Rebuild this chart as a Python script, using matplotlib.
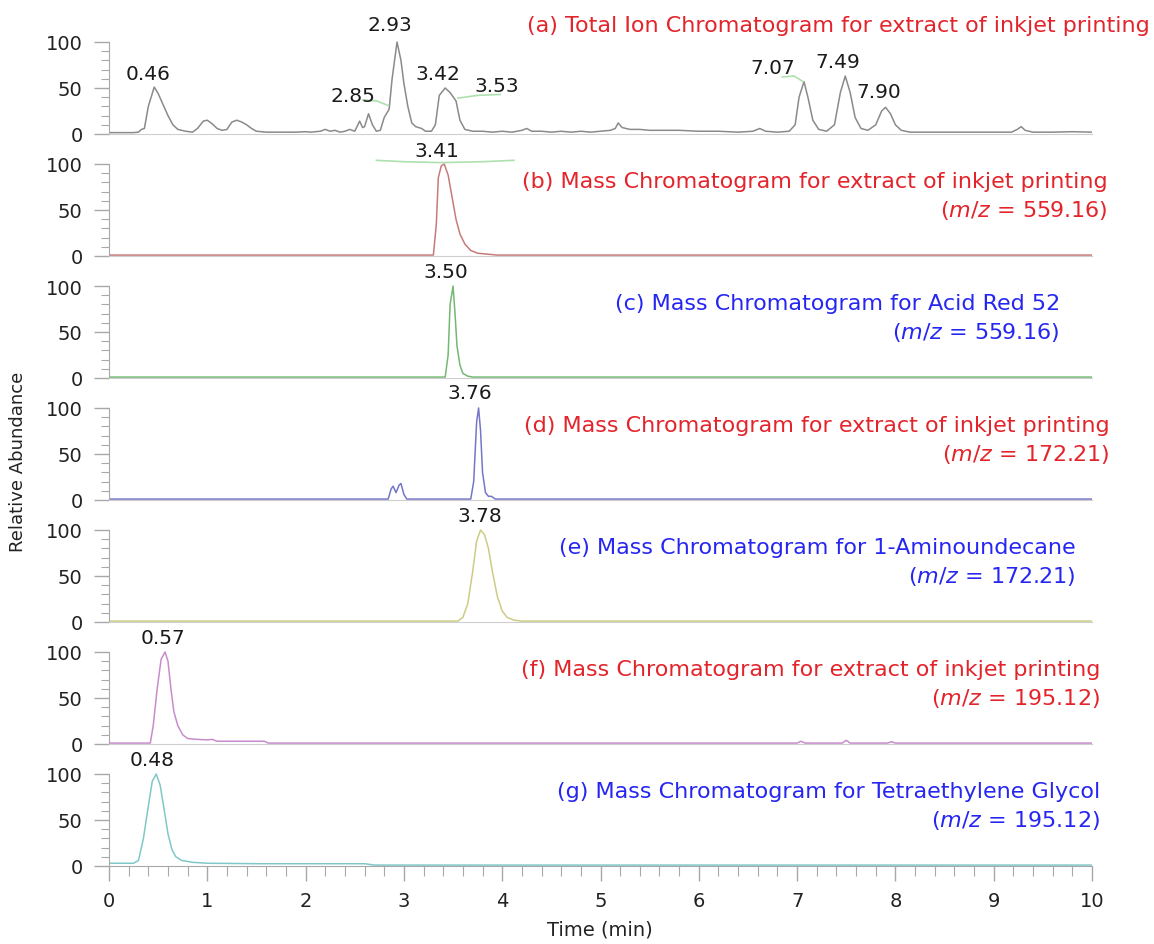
import matplotlib
matplotlib.use("Agg")
import matplotlib.pyplot as plt
from matplotlib.ticker import FixedLocator

plt.rcParams['font.family'] = ['DejaVu Sans']
plt.rcParams['mathtext.fontset'] = 'dejavusans'

W, H = 1154, 945

# ---- traces: (time in min, relative abundance) ----
tic_t = [0.00, 0.25, 0.30, 0.33, 0.36, 0.40, 0.46, 0.50, 0.55, 0.60, 0.65, 0.70, 0.78,
         0.85, 0.90, 0.96, 1.00, 1.05, 1.10, 1.15, 1.20, 1.25, 1.30, 1.35, 1.40, 1.45,
         1.50, 1.60, 1.90, 2.00, 2.05, 2.15, 2.20, 2.25, 2.30, 2.35, 2.40, 2.45, 2.50,
         2.55, 2.58, 2.60, 2.64, 2.68, 2.72, 2.76, 2.80, 2.85, 2.88, 2.93, 2.97, 3.00,
         3.04, 3.08, 3.12, 3.18, 3.22, 3.28, 3.32, 3.36, 3.42, 3.47, 3.53, 3.57, 3.62,
         3.70, 3.80, 3.90, 4.00, 4.10, 4.20, 4.25, 4.30, 4.40, 4.50, 4.60, 4.70, 4.80,
         4.90, 5.00, 5.10, 5.15, 5.18, 5.22, 5.30, 5.40, 5.50, 5.60, 5.80, 6.00, 6.20,
         6.40, 6.55, 6.62, 6.68, 6.80, 6.92, 6.98, 7.02, 7.07, 7.11, 7.16, 7.22, 7.30,
         7.38, 7.44, 7.49, 7.54, 7.59, 7.65, 7.72, 7.80, 7.86, 7.90, 7.95, 8.00, 8.06,
         8.15, 8.50, 9.00, 9.18, 9.24, 9.28, 9.32, 9.40, 9.60, 9.80, 10.0]
tic_i = [1.5, 1.5, 2, 5, 6, 30, 51, 44, 32, 20, 10, 5, 3,
         2, 6, 14, 15, 11, 6, 4, 5, 13, 15, 13, 10, 6,
         3, 2, 2, 2.5, 2, 3, 5, 3, 4, 2, 3, 5, 3,
         14, 7, 8, 22, 10, 3, 4, 18, 27, 60, 100, 80, 55,
         30, 12, 8, 6, 3, 3, 10, 42, 50, 45, 36, 15, 5,
         3, 3, 2, 3, 2, 4, 6, 3, 3, 2, 3, 2, 3,
         2, 3, 4, 6, 12, 7, 5, 5, 4, 4, 4, 3, 3,
         2, 3, 6, 3, 2, 3, 10, 40, 57, 40, 15, 5, 3,
         10, 45, 63, 45, 18, 6, 4, 10, 25, 29, 22, 10, 4,
         2, 2, 2, 2, 5, 8, 4, 2, 2, 2.5, 2]

b_t = [0, 3.30, 3.33, 3.35, 3.38, 3.41, 3.45, 3.49, 3.53, 3.57, 3.62, 3.68, 3.75, 3.85, 3.95, 10]
b_i = [1, 1, 35, 85, 98, 100, 88, 64, 40, 24, 13, 6, 3, 2, 1, 1]

c_t = [0, 3.42, 3.45, 3.47, 3.50, 3.52, 3.54, 3.57, 3.60, 3.65, 3.70, 10]
c_i = [1, 1, 25, 80, 100, 70, 35, 14, 5, 2, 1, 1]

d_t = [0, 2.84, 2.87, 2.89, 2.92, 2.95, 2.97, 3.00, 3.03, 3.68, 3.71, 3.74, 3.76, 3.78,
       3.80, 3.83, 3.86, 3.89, 3.93, 10]
d_i = [1, 1, 12, 15, 8, 16, 18, 6, 1, 1, 20, 85, 100, 75, 30, 8, 4, 4, 1, 1]

e_t = [0, 3.55, 3.60, 3.65, 3.70, 3.74, 3.78, 3.82, 3.86, 3.90, 3.95, 4.00, 4.05, 4.12, 4.20, 10]
e_i = [1, 1, 5, 20, 55, 88, 100, 95, 80, 55, 28, 12, 5, 2, 1, 1]

f_t = [0, 0.42, 0.45, 0.49, 0.53, 0.57, 0.60, 0.63, 0.66, 0.70, 0.75, 0.80, 0.90, 1.00,
       1.05, 1.10, 1.30, 1.58, 1.62, 7.00, 7.04, 7.08, 7.46, 7.50, 7.54, 7.92, 7.96, 8.00, 10]
f_i = [1, 1, 20, 60, 92, 100, 90, 60, 35, 20, 10, 6, 5, 4.5,
       5, 3, 3, 3, 1, 1, 3, 1, 1, 4, 1, 1, 2.5, 1, 1]

g_t = [0, 0.25, 0.30, 0.35, 0.40, 0.44, 0.48, 0.52, 0.56, 0.60, 0.64, 0.68, 0.74, 0.85,
       1.00, 1.50, 2.00, 2.60, 2.70, 10]
g_i = [3, 3, 6, 30, 65, 92, 100, 88, 62, 35, 18, 10, 6, 4,
       3, 2.5, 2.5, 2.5, 1, 1]

traces = [(tic_t, tic_i), (b_t, b_i), (c_t, c_i), (d_t, d_i), (e_t, e_i), (f_t, f_i), (g_t, g_i)]
trace_colors = ['#8a8a8a', '#c87a7a', '#74b874', '#7676c8', '#cccc84', '#c88ccc', '#80c8c8']

# peak labels: (text, time, abundance) per panel
peak_labels = [
    [('0.46', 0.40, 66), ('2.85', 2.48, 42), ('2.93', 2.86, 119), ('3.42', 3.35, 66),
     ('3.53', 3.94, 53), ('7.07', 6.75, 72), ('7.49', 7.41, 79), ('7.90', 7.83, 46)],
    [('3.41', 3.34, 115)],
    [('3.50', 3.43, 116)],
    [('3.76', 3.67, 117)],
    [('3.78', 3.77, 116)],
    [('0.57', 0.55, 116)],
    [('0.48', 0.44, 116)],
]

# green leader lines (time, abundance) per panel
leaders = [
    [([2.58, 2.72, 2.84], [37, 36, 31]),
     ([3.55, 3.75, 3.98], [39, 42, 43]),
     ([6.85, 6.97, 7.06], [62, 63, 57])],
    [([2.72, 3.0, 3.38, 3.8, 4.12], [104, 102.5, 101.5, 102.5, 104])],
    [], [], [], [], [],
]

red, blue = '#e3242b', '#2626f2'
titles = [
    ('(a) Total Ion Chromatogram for extract of inkjet printing', None, red),
    ('(b) Mass Chromatogram for extract of inkjet printing', '559.16', red),
    ('(c) Mass Chromatogram for Acid Red 52', '559.16', blue),
    ('(d) Mass Chromatogram for extract of inkjet printing', '172.21', red),
    ('(e) Mass Chromatogram for 1-Aminoundecane', '172.21', blue),
    ('(f) Mass Chromatogram for extract of inkjet printing', '195.12', red),
    ('(g) Mass Chromatogram for Tetraethylene Glycol', '195.12', blue),
]
# right edge of each title block (pixels)
title_right = [1150, 1108, 1060, 1110, 1076, 1100, 1100]

fig = plt.figure(figsize=(W / 100, H / 100), dpi=100)

x_left, x_right = 109, 1092
y_scale = 0.92      # pixels per abundance unit
spacing = 122
first_zero = 135
grey = '#a8a8a8'

for k in range(7):
    y0 = first_zero + spacing * k
    bottom_px = y0 + 3 * y_scale
    height_px = 133 * y_scale
    ax = fig.add_axes([x_left / W, 1 - bottom_px / H, (x_right - x_left) / W, height_px / H])
    ax.set_xlim(0, 10)
    ax.set_ylim(-3, 130)
    ax.patch.set_visible(False)
    for s in ['top', 'right']:
        ax.spines[s].set_visible(False)
    ax.spines['left'].set_bounds(0, 100)
    ax.spines['left'].set_color(grey)
    ax.spines['bottom'].set_position(('data', 0))
    ax.spines['bottom'].set_color('#cfcfcf')
    ax.yaxis.set_major_locator(FixedLocator([0, 50, 100]))
    ax.yaxis.set_minor_locator(FixedLocator(range(0, 101, 10)))
    ax.tick_params(axis='y', which='major', length=11, width=1, color=grey,
                   labelsize=14, labelcolor='#222222', pad=8)
    ax.tick_params(axis='y', which='minor', length=6, width=0.8, color=grey)

    t, i = traces[k]
    ax.plot(t, i, color=trace_colors[k], lw=1.1, solid_joinstyle='round')
    for lx, ly in leaders[k]:
        ax.plot(lx, ly, color='#aee0ae', lw=1.2)
    for txt, lt, li in peak_labels[k]:
        ax.text(lt, li, txt, ha='center', va='center', fontsize=14.5, color='#1a1a1a',
                clip_on=False)

    if k < 6:
        ax.set_xticks([])
    else:
        ax.spines['bottom'].set_color(grey)
        ax.xaxis.set_major_locator(FixedLocator(range(11)))
        ax.xaxis.set_minor_locator(FixedLocator([x / 5 for x in range(51)]))
        ax.tick_params(axis='x', which='major', length=11, width=1, color=grey,
                       labelsize=14, labelcolor='#222222', pad=7)
        ax.tick_params(axis='x', which='minor', length=7, width=0.8, color=grey)

    title, mz, col = titles[k]
    right = title_right[k] / W
    if mz is None:
        fig.text(right, 1 - 26 / H, title, ha='right', va='center', fontsize=16, color=col)
    else:
        fig.text(right, 1 - (y0 - 75) / H, title, ha='right', va='center', fontsize=16, color=col)
        fig.text(right, 1 - (y0 - 46) / H, r'($\mathit{m/z}$ = ' + mz + ')', ha='right',
                 va='center', fontsize=16, color=col)

fig.text(18 / W, 1 - 462 / H, 'Relative Abundance', rotation=90, ha='center', va='center',
         fontsize=13, color='#222222')
fig.text(600 / W, 1 - 930 / H, 'Time (min)', ha='center', va='center', fontsize=14,
         color='#222222')

fig.savefig('out.png', dpi=100)
